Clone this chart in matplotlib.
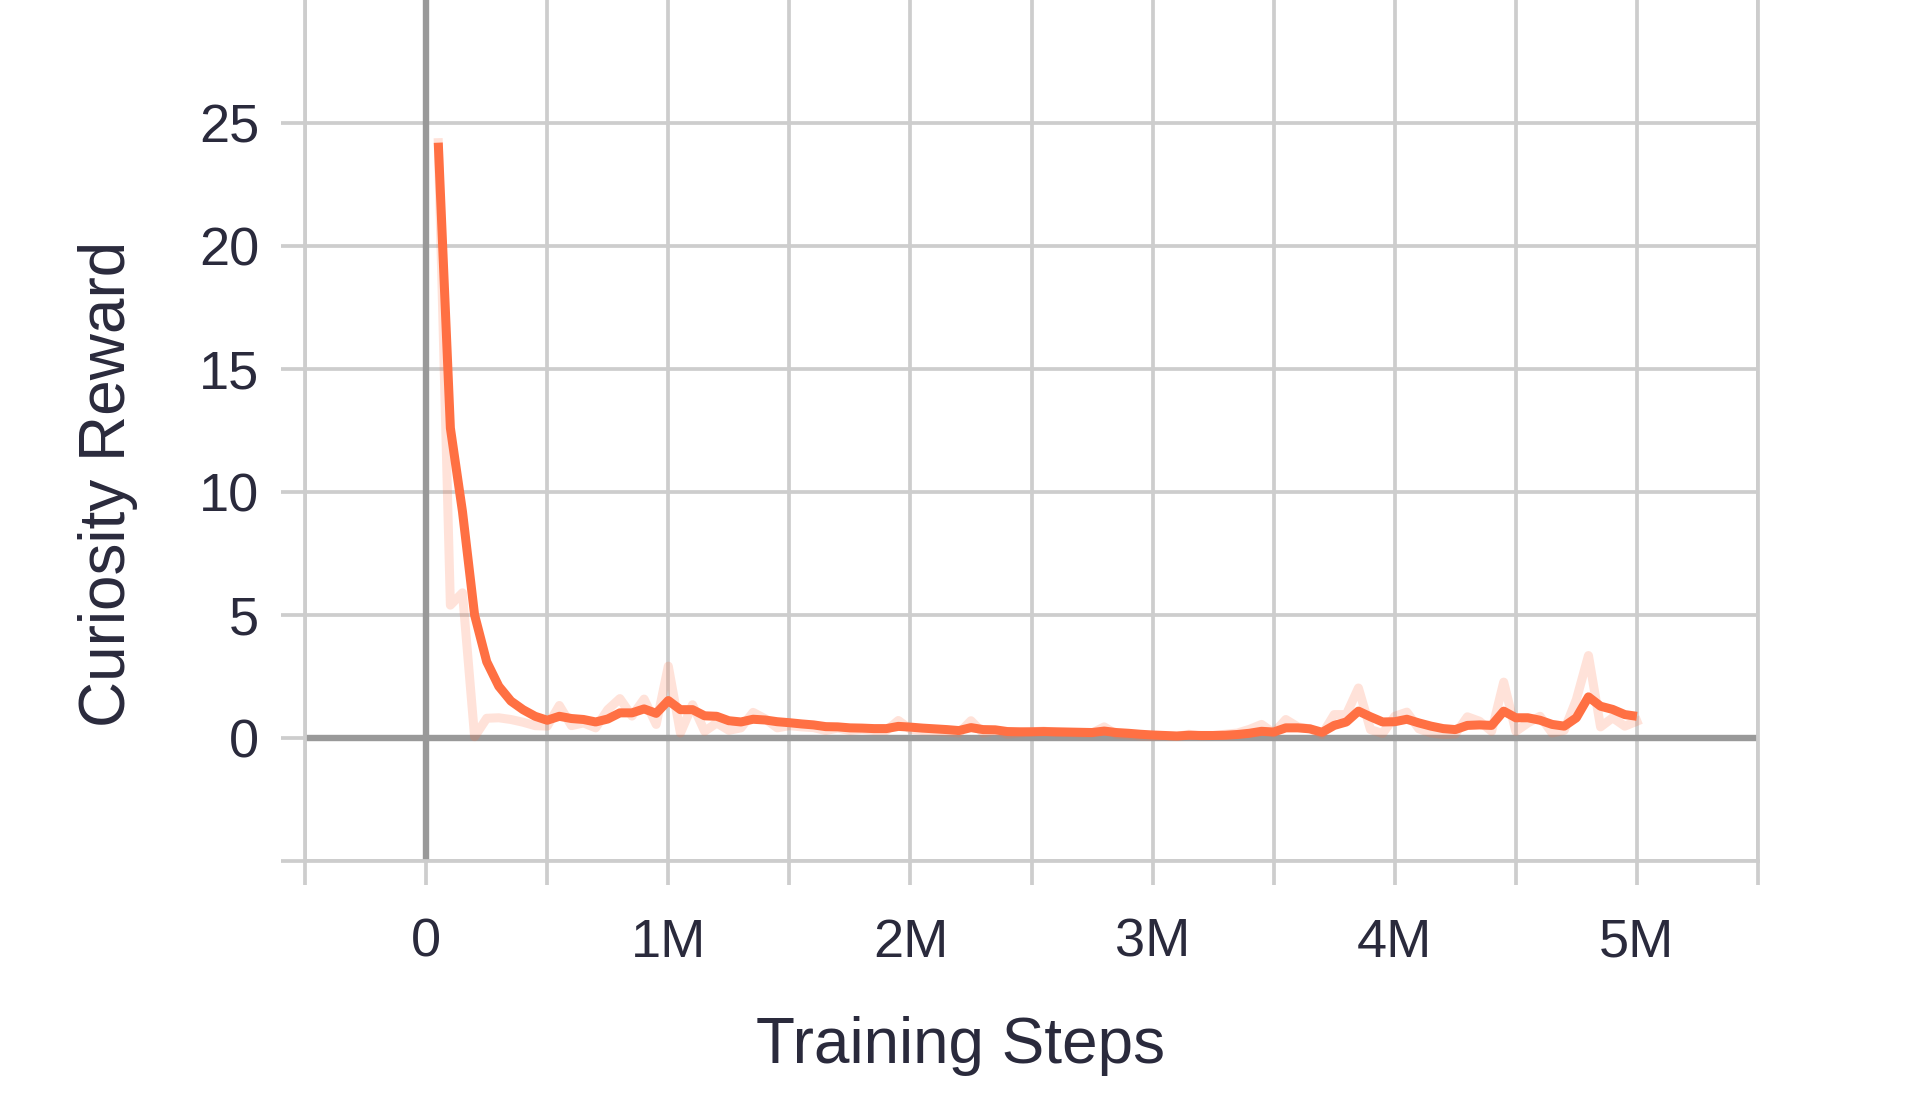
import numpy as np
import matplotlib
matplotlib.use("Agg")
import matplotlib.pyplot as plt

plt.rcParams['font.family'] = ['Liberation Sans', 'DejaVu Sans']

# training steps in millions
steps = [round(0.05 * i, 2) for i in range(1, 101)]

smoothed = [24.2, 12.6, 9.2, 5.0, 3.1, 2.1, 1.5, 1.15, 0.88, 0.72,
            0.88, 0.79, 0.75, 0.65, 0.77, 1.02, 1.02, 1.18, 1.0, 1.52,
            1.15, 1.15, 0.9, 0.88, 0.7, 0.65, 0.76, 0.73, 0.66, 0.62,
            0.57, 0.53, 0.46, 0.45, 0.41, 0.40, 0.38, 0.38, 0.47, 0.44,
            0.40, 0.37, 0.34, 0.30, 0.42, 0.34, 0.33, 0.26, 0.25, 0.25,
            0.26, 0.25, 0.24, 0.23, 0.22, 0.28, 0.22, 0.19, 0.15, 0.12,
            0.10, 0.08, 0.11, 0.10, 0.10, 0.11, 0.14, 0.19, 0.27, 0.24,
            0.41, 0.41, 0.37, 0.23, 0.51, 0.65, 1.09, 0.86, 0.65, 0.66,
            0.76, 0.61, 0.48, 0.38, 0.34, 0.51, 0.53, 0.51, 1.09, 0.82,
            0.82, 0.72, 0.55, 0.48, 0.82, 1.67, 1.29, 1.16, 0.95, 0.88]

raw = [24.2, 5.4, 5.9, 0.05, 0.8, 0.82, 0.75, 0.64, 0.5, 0.48,
       1.32, 0.5, 0.61, 0.41, 1.15, 1.6, 0.89, 1.58, 0.55, 2.92,
       0.2, 1.35, 0.27, 0.61, 0.31, 0.41, 1.04, 0.78, 0.41, 0.5,
       0.45, 0.42, 0.3, 0.4, 0.3, 0.35, 0.3, 0.3, 0.71, 0.35,
       0.3, 0.28, 0.25, 0.2, 0.7, 0.2, 0.3, 0.15, 0.2, 0.25,
       0.28, 0.22, 0.22, 0.2, 0.2, 0.45, 0.15, 0.12, 0.08, 0.06,
       0.08, 0.06, 0.15, 0.08, 0.1, 0.15, 0.2, 0.35, 0.55, 0.2,
       0.75, 0.45, 0.37, 0.14, 0.95, 0.95, 2.03, 0.34, 0.18, 0.88,
       1.05, 0.37, 0.2, 0.14, 0.16, 0.86, 0.68, 0.27, 2.27, 0.27,
       0.61, 0.88, 0.2, 0.31, 1.56, 3.35, 0.45, 0.82, 0.48, 0.68]

x_ticks = np.arange(-0.5, 5.51, 0.5)
x_labels = ['', '0', '', '1M', '', '2M', '', '3M', '', '4M', '', '5M', '']
y_ticks = [-5, 0, 5, 10, 15, 20, 25]
y_labels = ['', '0', '5', '10', '15', '20', '25']

orange = '#ff7043'
grid_c = '#cdcdcd'
zero_c = '#999999'
text_c = '#2a2a3c'

fig = plt.figure(figsize=(19.2, 11.2), dpi=100)
ax = fig.add_axes([0.1589, 0.2313, 0.7567, 0.7687])

ax.plot(steps, raw, color=orange, alpha=0.2, lw=6.5, zorder=3)
ax.plot(steps, smoothed, color=orange, lw=6.5, solid_capstyle='butt', zorder=4)

ax.axhline(0, color=zero_c, lw=4.6, zorder=2)
ax.axvline(0, color=zero_c, lw=4.6, zorder=2)

ax.set_xlim(-0.5, 5.5)
ax.set_ylim(-5, 30)
ax.set_xticks(x_ticks)
ax.set_xticklabels(x_labels)
ax.set_yticks(y_ticks)
ax.set_yticklabels(y_labels)
ax.grid(True, color=grid_c, lw=2.7, zorder=1)
ax.set_axisbelow(True)

ax.tick_params(axis='both', colors=grid_c, width=2.7, length=17, labelsize=39,
               labelcolor=text_c)
ax.tick_params(axis='x', pad=24)
ax.tick_params(axis='y', pad=16)

ax.spines['top'].set_visible(False)
for s in ['left', 'right', 'bottom']:
    ax.spines[s].set_color(grid_c)
    ax.spines[s].set_linewidth(2.7)

fig.text(0.5, 0.066, 'Training Steps', ha='center', va='center',
         fontsize=46, color=text_c)
fig.text(0.056, 0.568, 'Curiosity Reward', ha='center', va='center',
         rotation=90, fontsize=46, color=text_c)

fig.savefig('out.png', dpi=100)
